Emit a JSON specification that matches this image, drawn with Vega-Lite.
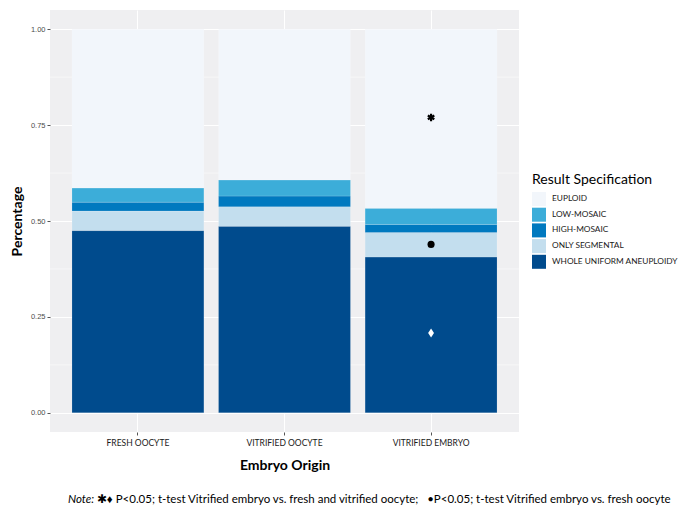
{
  "$schema": "https://vega.github.io/schema/vega-lite/v6.json",
  "width": 469,
  "height": 422,
  "autosize": "none",
  "padding": {"left": 50, "top": 10, "right": 166, "bottom": 73},
  "config": {
    "view": {"fill": "#efeff1", "stroke": null},
    "font": "Lato"
  },
  "title": {
    "text": "Note:",
    "subtitle": "\u200b\u2003\u2003\u2003\u00a0✱♦ P<0.05; t-test Vitrified embryo vs. fresh and vitrified oocyte;\u00a0\u00a0\u00a0•P<0.05; t-test Vitrified embryo vs. fresh oocyte",
    "orient": "bottom",
    "anchor": "start",
    "frame": "group",
    "dx": 18,
    "offset": 21,
    "font": "Lato",
    "fontSize": 11.5,
    "fontStyle": "italic",
    "fontWeight": "normal",
    "color": "#000000",
    "subtitleFont": "Lato",
    "subtitleFontSize": 11.5,
    "subtitleColor": "#000000",
    "subtitlePadding": -11.5
  },
  "datasets": {
    "bars": [
      {"origin": "FRESH OOCYTE", "result": "WHOLE UNIFORM ANEUPLOIDY", "rank": 1, "value": 0.475},
      {"origin": "FRESH OOCYTE", "result": "ONLY SEGMENTAL", "rank": 2, "value": 0.051},
      {"origin": "FRESH OOCYTE", "result": "HIGH-MOSAIC", "rank": 3, "value": 0.023},
      {"origin": "FRESH OOCYTE", "result": "LOW-MOSAIC", "rank": 4, "value": 0.037},
      {"origin": "FRESH OOCYTE", "result": "EUPLOID", "rank": 5, "value": 0.414},
      {"origin": "VITRIFIED OOCYTE", "result": "WHOLE UNIFORM ANEUPLOIDY", "rank": 1, "value": 0.486},
      {"origin": "VITRIFIED OOCYTE", "result": "ONLY SEGMENTAL", "rank": 2, "value": 0.051},
      {"origin": "VITRIFIED OOCYTE", "result": "HIGH-MOSAIC", "rank": 3, "value": 0.028},
      {"origin": "VITRIFIED OOCYTE", "result": "LOW-MOSAIC", "rank": 4, "value": 0.042},
      {"origin": "VITRIFIED OOCYTE", "result": "EUPLOID", "rank": 5, "value": 0.393},
      {"origin": "VITRIFIED EMBRYO", "result": "WHOLE UNIFORM ANEUPLOIDY", "rank": 1, "value": 0.406},
      {"origin": "VITRIFIED EMBRYO", "result": "ONLY SEGMENTAL", "rank": 2, "value": 0.064},
      {"origin": "VITRIFIED EMBRYO", "result": "HIGH-MOSAIC", "rank": 3, "value": 0.021},
      {"origin": "VITRIFIED EMBRYO", "result": "LOW-MOSAIC", "rank": 4, "value": 0.042},
      {"origin": "VITRIFIED EMBRYO", "result": "EUPLOID", "rank": 5, "value": 0.467}
    ],
    "minor": [
      {"value": 0.125}, {"value": 0.375}, {"value": 0.625}, {"value": 0.875}
    ],
    "marks": [
      {"origin": "VITRIFIED EMBRYO", "sig": "asterisk", "value": 0.77},
      {"origin": "VITRIFIED EMBRYO", "sig": "dot", "value": 0.439},
      {"origin": "VITRIFIED EMBRYO", "sig": "diamond", "value": 0.208}
    ]
  },
  "layer": [
    {
      "data": {"name": "minor"},
      "mark": {"type": "rule", "color": "#ffffff", "strokeWidth": 0.5},
      "encoding": {
        "y": {"field": "value", "type": "quantitative", "title": "Percentage",
              "scale": {"domain": [-0.05, 1.05], "nice": false, "zero": false}}
      }
    },
    {
      "data": {"name": "bars"},
      "mark": {"type": "bar", "stroke": "#ffffff", "strokeWidth": 0.3, "strokeOpacity": 0.5},
      "encoding": {
        "x": {
          "field": "origin", "type": "nominal", "sort": ["FRESH OOCYTE", "VITRIFIED OOCYTE", "VITRIFIED EMBRYO"],
          "title": "Embryo Origin",
          "scale": {"paddingInner": 0.1, "paddingOuter": 0.15},
          "axis": {
            "labelAngle": 0, "labelFont": "Lato", "labelFontSize": 8.5, "labelColor": "#1a1a1a",
            "labelPadding": 3, "tickSize": 3, "tickColor": "#555555", "domain": false,
            "grid": true, "gridColor": "#ffffff", "gridWidth": 1, "bandPosition": 0.5,
            "titleFont": "Lato", "titleFontSize": 14, "titleFontWeight": "bold", "titleColor": "#000000",
            "titlePadding": 12
          }
        },
        "y": {
          "field": "value", "type": "quantitative", "stack": "zero", "title": "Percentage",
          "scale": {"domain": [-0.05, 1.05], "nice": false, "zero": false},
          "axis": {
            "values": [0, 0.25, 0.5, 0.75, 1], "format": ".2f",
            "labelFont": "Liberation Sans", "labelFontSize": 7.5, "labelColor": "#4d4d4d",
            "labelPadding": 2, "tickSize": 3, "tickColor": "#555555", "domain": false,
            "grid": true, "gridColor": "#ffffff", "gridWidth": 1,
            "titleFont": "Lato", "titleFontSize": 14, "titleFontWeight": "bold", "titleColor": "#000000",
            "titlePadding": 6
          }
        },
        "order": {"field": "rank", "type": "quantitative", "sort": "ascending"},
        "color": {
          "field": "result", "type": "nominal",
          "sort": ["EUPLOID", "LOW-MOSAIC", "HIGH-MOSAIC", "ONLY SEGMENTAL", "WHOLE UNIFORM ANEUPLOIDY"],
          "title": "Result Specification",
          "scale": {
            "domain": ["EUPLOID", "LOW-MOSAIC", "HIGH-MOSAIC", "ONLY SEGMENTAL", "WHOLE UNIFORM ANEUPLOIDY"],
            "range": ["#f2f6fb", "#3cadd9", "#0079bf", "#c3deee", "#004b8d"]
          },
          "legend": {
            "orient": "none", "legendX": 482, "legendY": 163, "padding": 0,
            "titleFont": "Lato", "titleFontSize": 14, "titleFontWeight": "normal", "titleColor": "#000000",
            "titlePadding": 5,
            "labelFont": "Lato", "labelFontSize": 8.3, "labelColor": "#1a1a1a", "labelOffset": 6,
            "labelLimit": 200,
            "symbolType": "square", "symbolSize": 196, "symbolStrokeWidth": 0, "symbolOpacity": 1,
            "rowPadding": 1.7
          }
        }
      }
    },
    {
      "data": {"name": "marks"},
      "transform": [{"filter": "datum.sig === 'asterisk'"}],
      "mark": {"type": "point", "shape": "M0,-1L0,1M-0.87,-0.5L0.87,0.5M-0.87,0.5L0.87,-0.5", "size": 56, "stroke": "#000000", "strokeWidth": 2.2, "filled": false, "opacity": 1},
      "encoding": {
        "x": {"field": "origin", "type": "nominal", "sort": ["FRESH OOCYTE", "VITRIFIED OOCYTE", "VITRIFIED EMBRYO"], "title": "Embryo Origin"},
        "y": {"field": "value", "type": "quantitative", "title": "Percentage"}
      }
    },
    {
      "data": {"name": "marks"},
      "transform": [{"filter": "datum.sig === 'dot'"}],
      "mark": {"type": "point", "shape": "circle", "size": 50, "fill": "#000000", "filled": true, "opacity": 1},
      "encoding": {
        "x": {"field": "origin", "type": "nominal", "sort": ["FRESH OOCYTE", "VITRIFIED OOCYTE", "VITRIFIED EMBRYO"], "title": "Embryo Origin"},
        "y": {"field": "value", "type": "quantitative", "title": "Percentage"}
      }
    },
    {
      "data": {"name": "marks"},
      "transform": [{"filter": "datum.sig === 'diamond'"}],
      "mark": {"type": "point", "shape": "M0,-1L0.65,0L0,1L-0.65,0Z", "size": 81, "fill": "#ffffff", "filled": true, "opacity": 1},
      "encoding": {
        "x": {"field": "origin", "type": "nominal", "sort": ["FRESH OOCYTE", "VITRIFIED OOCYTE", "VITRIFIED EMBRYO"], "title": "Embryo Origin"},
        "y": {"field": "value", "type": "quantitative", "title": "Percentage"}
      }
    }
  ]
}
